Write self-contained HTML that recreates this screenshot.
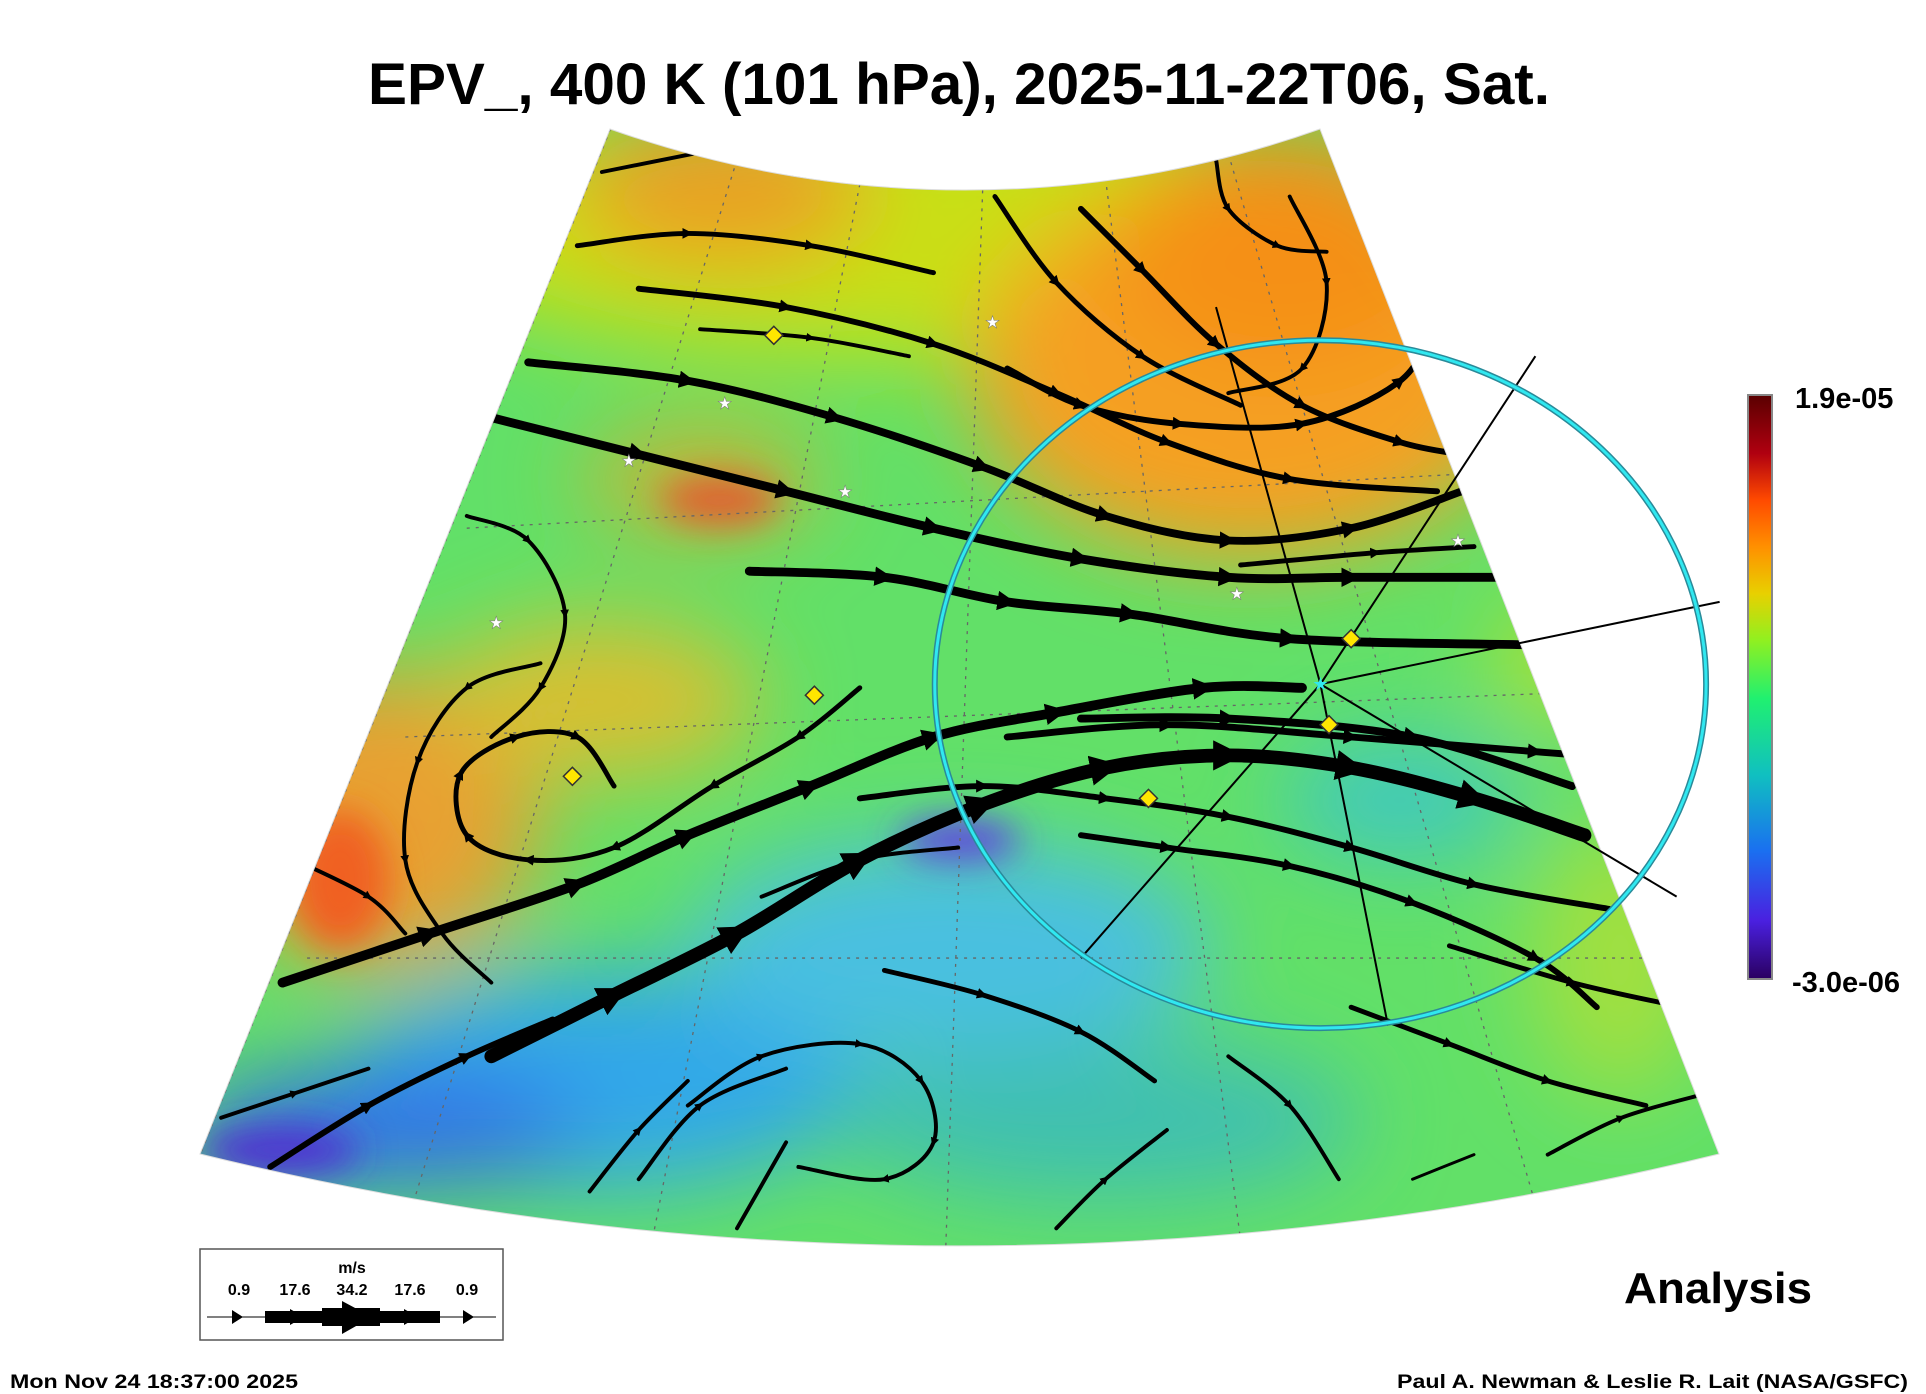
<!DOCTYPE html>
<html><head><meta charset="utf-8">
<style>
html,body{margin:0;padding:0;background:#fff;}
svg{display:block;font-family:"Liberation Sans",Arial,sans-serif;}
</style></head>
<body>
<svg id="chart" width="1926" height="1394" viewBox="0 0 1926 1394" xmlns="http://www.w3.org/2000/svg">
<defs>
  <clipPath id="sector"><path d="M610,129 A1063,1063 0 0 0 1320,129 L1719,1154 A3185,3185 0 0 1 200,1154 Z"/></clipPath>
  <filter id="blur" x="-50%" y="-50%" width="200%" height="200%"><feGaussianBlur stdDeviation="45"/></filter>
  <filter id="blur2" x="-50%" y="-50%" width="200%" height="200%"><feGaussianBlur stdDeviation="18"/></filter>
  <linearGradient id="cbar" x1="0" y1="1" x2="0" y2="0">
    <stop offset="0" stop-color="#2a0060"/><stop offset="0.1" stop-color="#4a20e0"/>
    <stop offset="0.22" stop-color="#1a70f0"/><stop offset="0.35" stop-color="#10c0c0"/>
    <stop offset="0.48" stop-color="#20f070"/><stop offset="0.58" stop-color="#90f020"/>
    <stop offset="0.66" stop-color="#e8d000"/><stop offset="0.74" stop-color="#ff9000"/>
    <stop offset="0.82" stop-color="#ff4a00"/><stop offset="0.9" stop-color="#b00010"/>
    <stop offset="1" stop-color="#5a0000"/>
  </linearGradient>
  <marker id="arr" viewBox="0 0 10 10" refX="5" refY="5" markerWidth="2.2" markerHeight="2.2" orient="auto"><path d="M0,0 L10,5 L0,10 Z" fill="#000"/></marker>
</defs>
<text x="368" y="104" textLength="1182" lengthAdjust="spacingAndGlyphs" font-size="58" font-weight="bold">EPV_, 400 K (101 hPa), 2025-11-22T06, Sat.</text>

<g clip-path="url(#sector)">
  <rect x="150" y="100" width="1600" height="1200" fill="#62e068"/>
  <g filter="url(#blur)">
    <ellipse cx="900" cy="230" rx="500" ry="130" fill="#c8e018"/>
    <ellipse cx="1250" cy="370" rx="280" ry="190" fill="#f5a020"/>
    <ellipse cx="1280" cy="250" rx="170" ry="120" fill="#f59018"/>
    <ellipse cx="720" cy="190" rx="150" ry="80" fill="#eaa020"/>
    <ellipse cx="380" cy="820" rx="160" ry="150" fill="#e8a030"/>
    <ellipse cx="600" cy="700" rx="160" ry="80" fill="#d8c030"/>
    <ellipse cx="700" cy="480" rx="120" ry="50" fill="#d0b030"/>
    <ellipse cx="600" cy="1080" rx="260" ry="110" fill="#30a8e8"/>
    <ellipse cx="950" cy="950" rx="260" ry="110" fill="#48c0e0"/>
    <ellipse cx="1100" cy="1120" rx="260" ry="80" fill="#40c0b0"/>
    <ellipse cx="380" cy="1130" rx="200" ry="60" fill="#3070e8"/>
    <ellipse cx="1400" cy="800" rx="120" ry="60" fill="#40c8c0"/>
    <ellipse cx="1620" cy="960" rx="90" ry="140" fill="#a0e040"/>
    <ellipse cx="1580" cy="660" rx="90" ry="60" fill="#b0e030"/>
  </g>
  <g filter="url(#blur2)">
    <ellipse cx="340" cy="880" rx="50" ry="70" fill="#f06020"/>
    <ellipse cx="720" cy="500" rx="60" ry="25" fill="#e06030"/>
    <ellipse cx="960" cy="840" rx="60" ry="20" fill="#6040e0"/>
    <ellipse cx="280" cy="1150" rx="80" ry="25" fill="#5030d0"/>
  </g>
  <g id="grid" stroke="#666" stroke-width="1.3" stroke-dasharray="3,6" fill="none"></g>
  <g id="streams"></g>
</g>
<path d="M610,129 A1063,1063 0 0 0 1320,129 L1719,1154 A3185,3185 0 0 1 200,1154 Z" fill="none" stroke="#ddd" stroke-width="1"/>
<g id="overlay"></g>
<g id="markers"></g>

<g>
  <rect x="1748" y="395" width="24" height="584" fill="url(#cbar)" stroke="#888" stroke-width="2"/>
  <text x="1795" y="408" font-size="29" font-weight="bold">1.9e-05</text>
  <text x="1792" y="992" font-size="29" font-weight="bold">-3.0e-06</text>
</g>

<g>
  <rect x="200" y="1249" width="303" height="91" fill="#fff" stroke="#555" stroke-width="1.5"/>
  <text x="352" y="1273" font-size="16" font-weight="bold" text-anchor="middle">m/s</text>
  <g font-size="16" font-weight="bold" text-anchor="middle">
    <text x="239" y="1295">0.9</text><text x="295" y="1295">17.6</text><text x="352" y="1295">34.2</text><text x="410" y="1295">17.6</text><text x="467" y="1295">0.9</text>
  </g>
  <line x1="207" y1="1317" x2="496" y2="1317" stroke="#000" stroke-width="1"/>
  <rect x="265" y="1311" width="175" height="12" fill="#000"/>
  <rect x="322" y="1308" width="58" height="18" fill="#000"/>
  <path d="M232,1310 L243,1317 L232,1324Z M290,1309 L304,1317 L290,1325Z M342,1301 L372,1317 L342,1334Z M404,1309 L418,1317 L404,1325Z M463,1310 L474,1317 L463,1324Z" fill="#000"/>
</g>

<text x="1624" y="1303" textLength="188" lengthAdjust="spacingAndGlyphs" font-size="44" font-weight="bold">Analysis</text>
<text x="10" y="1388" textLength="288" lengthAdjust="spacingAndGlyphs" font-size="19" font-weight="bold">Mon Nov 24 18:37:00 2025</text>
<text x="1397" y="1388" textLength="511" lengthAdjust="spacingAndGlyphs" font-size="19" font-weight="bold">Paul A. Newman &amp; Leslie R. Lait (NASA/GSFC)</text>
</svg>
<script>
const streamPoints = [
 [[230,800],[350,760],[470,720],[560,680],[660,640],[760,600],[860,580],[980,560],[1060,560]],
 [[400,860],[500,810],[600,760],[700,700],[800,655],[900,625],[1000,615],[1100,625],[1200,650],[1290,680]],
 [[220,950],[300,900],[380,860],[450,830]],
 [[400,340],[520,370],[640,400],[760,430],[880,455],[1000,470],[1100,470],[1230,470]],
 [[430,295],[560,310],[680,340],[800,380],[900,420],[1000,440],[1100,430],[1190,400]],
 [[520,235],[640,250],[760,280],[860,320],[950,360],[1050,390],[1170,400]],
 [[470,200],[560,190],[660,200],[760,222]],
 [[490,140],[580,122]],
 [[570,268],[660,275],[740,290]],
 [[610,465],[720,470],[820,490],[920,500],[1050,520],[1250,525]],
 [[820,600],[950,590],[1100,600],[1250,612],[1290,615]],
 [[880,585],[1000,585],[1150,600],[1280,640]],
 [[380,420],[430,440],[460,500],[440,560],[400,600]],
 [[700,560],[650,600],[580,640],[500,690],[430,700],[380,680],[375,630],[420,600],[470,600],[500,640]],
 [[440,540],[380,560],[340,620],[330,700],[360,760],[400,800]],
 [[240,700],[300,730],[330,760]],
 [[990,130],[1000,170],[1040,200],[1080,205]],
 [[880,170],[930,220],[990,280],[1060,330],[1140,360],[1190,370]],
 [[810,160],[860,230],[930,290],[1010,330]],
 [[820,300],[880,330],[960,345],[1060,345],[1140,310],[1170,260]],
 [[1050,160],[1080,230],[1060,300],[1000,320]],
 [[880,680],[950,690],[1050,705],[1150,735],[1250,780],[1300,820]],
 [[700,650],[800,640],[900,650],[1000,665],[1100,690],[1200,720],[1310,740]],
 [[720,790],[800,810],[880,840],[940,880]],
 [[560,900],[620,860],[700,850],[750,880],[760,930],[720,960],[650,950]],
 [[520,960],[570,900],[640,870]],
 [[600,1000],[640,930]],
 [[1000,860],[1050,900],[1090,960]],
 [[1100,820],[1180,850],[1260,880],[1340,900]],
 [[1180,770],[1280,800],[1370,820]],
 [[1260,940],[1320,910],[1390,890]],
 [[1010,460],[1120,450],[1200,445]],
 [[180,910],[240,890],[300,870]],
 [[480,970],[520,920],[560,880]],
 [[860,1000],[900,960],[950,920]],
 [[1150,960],[1200,940]],
 [[620,730],[700,700],[780,690]]
];
const streamWidths = [10,14,6,9,8,6,5,4,4,9,7,8,4,5,4,4,4,6,5,6,4,6,6,5,4,4,4,4,5,5,4,5,4,4,4,3,4];
const diamondPoints = [[630,273],[663,566],[466,632],[935,650],[1100,520],[1082,590]];
const starPoints = [[808,262],[590,328],[512,375],[688,400],[404,507],[1187,440],[1007,483]];
const rayEnds = [[1250,290],[1400,490],[1365,730],[1130,835],[880,780],[990,250]];
const S = 1.2283;
const sx = v => v*S, sy = v => v*S;
const NS = "http://www.w3.org/2000/svg";

function smoothPath(pts){
  const p = pts.map(q=>[sx(q[0]),sy(q[1])]);
  let d = "M"+p[0][0].toFixed(1)+","+p[0][1].toFixed(1);
  for(let i=1;i<p.length;i++){
    const p0=p[Math.max(i-2,0)],p1=p[i-1],p2=p[i],p3=p[Math.min(i+1,p.length-1)];
    const c1=[p1[0]+(p2[0]-p0[0])/6,p1[1]+(p2[1]-p0[1])/6];
    const c2=[p2[0]-(p3[0]-p1[0])/6,p2[1]-(p3[1]-p1[1])/6];
    d+=" C"+c1.map(v=>v.toFixed(1)).join(",")+" "+c2.map(v=>v.toFixed(1)).join(",")+" "+p2[0].toFixed(1)+","+p2[1].toFixed(1);
  }
  return d;
}
const sg = document.getElementById("streams");
streamPoints.forEach((pts,i)=>{
  const el = document.createElementNS(NS,"path");
  el.setAttribute("d", smoothPath(pts));
  el.setAttribute("fill","none");
  el.setAttribute("stroke","#000");
  el.setAttribute("stroke-width", streamWidths[i]*S*0.8);
  el.setAttribute("stroke-linecap","round");
  el.setAttribute("marker-mid","url(#arr)");
  
  
  sg.appendChild(el);
});
const gg = document.getElementById("grid");
[[497,105,163,940],[600,130,330,1000],[700,150,530,1015],[800,155,770,1015],[900,145,1010,1010],[1000,125,1250,980],[380,430,1300,380],[330,600,1380,560],[250,780,1400,780]].forEach(l=>{
  const el=document.createElementNS(NS,"line");
  el.setAttribute("x1",sx(l[0]));el.setAttribute("y1",sy(l[1]));el.setAttribute("x2",sx(l[2]));el.setAttribute("y2",sy(l[3]));
  
  
  gg.appendChild(el);
});
const og = document.getElementById("overlay");
const cx = sx(1075), cy = sy(557);
rayEnds.forEach(r=>{
  const el=document.createElementNS(NS,"line");
  el.setAttribute("x1",cx);el.setAttribute("y1",cy);el.setAttribute("x2",sx(r[0]));el.setAttribute("y2",sy(r[1]));
  el.setAttribute("stroke","#000");el.setAttribute("stroke-width","2");
  
  
  og.appendChild(el);
});
[["#2a8a99",6],["#30e8f0",3]].forEach(c=>{
  const el=document.createElementNS(NS,"ellipse");
  el.setAttribute("cx",cx);el.setAttribute("cy",cy);el.setAttribute("rx",sx(314));el.setAttribute("ry",sy(280));
  el.setAttribute("fill","none");el.setAttribute("stroke",c[0]);el.setAttribute("stroke-width",c[1]);
  
  
  og.appendChild(el);
});
const mg = document.getElementById("markers");
diamondPoints.forEach(p=>{
  const x=sx(p[0]),y=sy(p[1]);
  const el=document.createElementNS(NS,"path");
  el.setAttribute("d","M"+x+","+(y-9)+" L"+(x+9)+","+y+" L"+x+","+(y+9)+" L"+(x-9)+","+y+" Z");
  el.setAttribute("fill","#ffe600");el.setAttribute("stroke","#333");el.setAttribute("stroke-width","1.5");
  
  
  mg.appendChild(el);
});
starPoints.forEach(p=>{
  const el=document.createElementNS(NS,"text");
  el.setAttribute("x",sx(p[0]));el.setAttribute("y",sy(p[1])+6);
  el.setAttribute("text-anchor","middle");el.setAttribute("font-size","17");
  el.setAttribute("fill","#fff");el.setAttribute("stroke","#777");el.setAttribute("stroke-width","0.5");
  el.textContent="★";
  
  
  mg.appendChild(el);
});
const ctr=document.createElementNS(NS,"text");
ctr.setAttribute("x",cx);ctr.setAttribute("y",cy+6);ctr.setAttribute("text-anchor","middle");
ctr.setAttribute("font-size","18");ctr.setAttribute("fill","#30e8f0");ctr.textContent="★";


mg.appendChild(ctr);
</script>
</body></html>
